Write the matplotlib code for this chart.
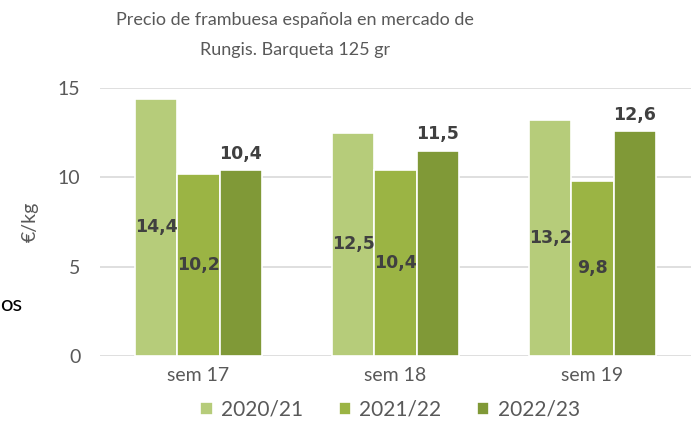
import numpy as np
import matplotlib
matplotlib.use("Agg")
import matplotlib.pyplot as plt

# ===== データ =====
semanas = ["sem 17", "sem 18", "sem 19"]
temporadas = ["2020/21", "2021/22", "2022/23"]
v_2021 = [14.4, 12.5, 13.2]
v_2122 = [10.2, 10.4, 9.8]
v_2223 = [10.4, 11.5, 12.6]
colores = ["#B6CC7A", "#9BB444", "#809937"]

plt.rcParams['font.family'] = ['Lato', 'DejaVu Sans']

fig = plt.figure(figsize=(6.91, 4.28), dpi=100)
ax = fig.add_axes([0.1447, 0.1682, 0.8553, 0.6262])

x = np.arange(len(semanas))
w = 0.215
series = [v_2021, v_2122, v_2223]
for i, (vals, c, lab) in enumerate(zip(series, colores, temporadas)):
    bars = ax.bar(x + (i - 1) * w, vals, w, color=c, edgecolor="white",
                  linewidth=1.2, label=lab, zorder=2)
    for b, v in zip(bars, vals):
        txt = f"{v:.1f}".replace(".", ",")
        if i < 2:
            ax.text(b.get_x() + b.get_width() / 2, v / 2, txt, ha="center",
                    va="center", fontsize=12.5, fontweight="bold",
                    color="#404040", family="DejaVu Sans", zorder=3)
        else:
            ax.text(b.get_x() + b.get_width() / 2, v + 0.4, txt, ha="center",
                    va="bottom", fontsize=12.5, fontweight="bold",
                    color="#404040", family="DejaVu Sans", zorder=3)

ax.set_xlim(-0.5, 2.5)
ax.set_ylim(0, 15)
ax.set_yticks([0, 5, 10, 15])
ax.set_xticks(x)
ax.set_xticklabels(semanas)
ax.grid(axis="y", color="#D9D9D9", linewidth=1.2, zorder=0)
for s in ax.spines.values():
    s.set_visible(False)
ax.tick_params(length=0, labelsize=14, colors="#595959")
ax.tick_params(axis="y", pad=14)
ax.tick_params(axis="x", pad=8)
ax.set_ylabel("€/kg", fontsize=14, color="#595959", labelpad=14)

fig.text(295 / 691, 1 - 20 / 428, "Precio de frambuesa española en mercado de",
         ha="center", va="center", fontsize=13, color="#595959")
fig.text(295 / 691, 1 - 50 / 428, "Rungis. Barqueta 125 gr",
         ha="center", va="center", fontsize=13, color="#595959")
fig.text(0, 1 - 305 / 428, "os", ha="left", va="center", fontsize=16,
         color="black")

ax.legend(loc="center", bbox_to_anchor=(390 / 691, 1 - 410 / 428),
          bbox_transform=fig.transFigure, ncol=3, frameon=False,
          fontsize=15, labelcolor="#595959", handlelength=0.6,
          handleheight=0.6, handletextpad=0.4, columnspacing=1.7)

plt.savefig("out.png", dpi=100)
